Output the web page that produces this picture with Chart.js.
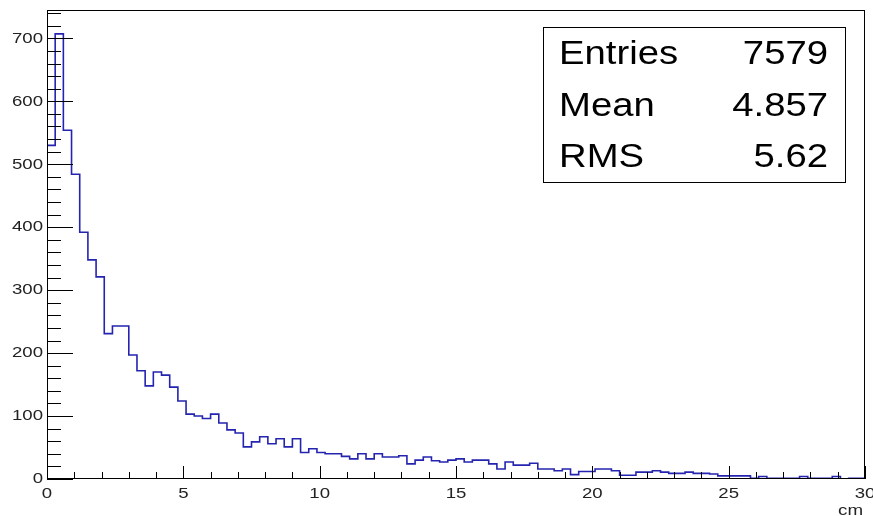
<!DOCTYPE html>
<html>
<head>
<meta charset="utf-8">
<script src="https://cdn.jsdelivr.net/npm/chart.js@4.4.0/dist/chart.umd.min.js"></script>
<style>
  html, body { margin: 0; padding: 0; background: #fff; }
  #wrap { width: 873px; height: 516px; }
</style>
</head>
<body>
<div id="wrap"><canvas id="hist"></canvas></div>
<script>
// histogram: 100 bins from 0 to 30 cm
const xMin = 0, xMax = 30, nBins = 100;
const counts = [
  530, 707, 554, 484, 392, 348, 321, 231, 243, 243,
  197, 172, 148, 170, 165, 146, 124, 103, 100, 96,
  103, 89, 78, 73, 51, 59, 67, 56, 64, 51,
  64, 42, 48, 42, 40, 40, 36, 32, 40, 32,
  40, 35, 35, 37, 24, 30, 35, 29, 27, 30,
  32, 27, 30, 30, 24, 16, 27, 22, 22, 25,
  16, 16, 13, 16, 7, 12, 12, 16, 16, 13,
  6, 6, 11, 11, 13, 11, 9, 9, 11, 9,
  9, 8, 5, 5, 5, 5, 1, 4, 1, 1,
  1, 1, 4, 1, 1, 1, 4, 0, 1, 1
];
const xTickValues = [0, 5, 10, 15, 20, 25, 30];
const yTickValues = [0, 100, 200, 300, 400, 500, 600, 700];
const yMax = 745;
const xTitle = 'cm';
const statNames = ['Entries', 'Mean', 'RMS'];
const statValues = ['7579', '4.857', '5.62'];

const binWidth = (xMax - xMin) / nBins;
const points = [{ x: xMin, y: 0 }];
counts.forEach((c, i) => points.push({ x: xMin + i * binWidth, y: c }));
points.push({ x: xMax, y: counts[counts.length - 1] });

const FONT = '"Liberation Sans", Arial, sans-serif';

// text in the reference is a bit wider than plain Arial
function wideText(ctx, text, x, y, align, stretch) {
  ctx.save();
  ctx.translate(x, y);
  ctx.scale(stretch, 1);
  ctx.textAlign = align;
  ctx.fillText(text, 0, 0);
  ctx.restore();
}

const rootFrame = {
  id: 'rootFrame',
  afterDraw(chart) {
    const ctx = chart.ctx;
    const a = chart.chartArea;
    const x = chart.scales.x, y = chart.scales.y;
    ctx.save();
    ctx.strokeStyle = '#000';
    ctx.lineWidth = 1;
    ctx.strokeRect(Math.round(a.left) + 0.5, Math.round(a.top) + 0.5,
      Math.round(a.right - a.left) - 1, Math.round(a.bottom - a.top) - 1);

    ctx.beginPath();
    for (let v = xMin; v <= xMax + 1e-9; v += 1) {
      const px = Math.round(x.getPixelForValue(v)) + 0.5;
      const len = (v % 5 === 0) ? 13 : 7;
      ctx.moveTo(px, a.bottom);
      ctx.lineTo(px, a.bottom - len);
    }
    for (let v = 0; v <= yMax; v += 20) {
      const py = Math.round(y.getPixelForValue(v)) + 0.5;
      const len = (v % 100 === 0) ? 26 : 14;
      ctx.moveTo(a.left, py);
      ctx.lineTo(a.left + len, py);
    }
    ctx.stroke();

    // tick labels
    ctx.fillStyle = '#222';
    ctx.font = '15.5px ' + FONT;
    ctx.textBaseline = 'middle';
    yTickValues.forEach(v => wideText(ctx, String(v), a.left - 4, y.getPixelForValue(v), 'right', 1.2));
    ctx.textBaseline = 'alphabetic';
    xTickValues.forEach(v => wideText(ctx, String(v), x.getPixelForValue(v), a.bottom + 19, 'center', 1.2));
    ctx.font = '15px ' + FONT;
    wideText(ctx, xTitle, a.right - 2, a.bottom + 36, 'right', 1.25);

    // stats box
    const bx = 543, by = 27, bw = 302, bh = 155;
    ctx.fillStyle = '#fff';
    ctx.fillRect(bx, by, bw, bh);
    ctx.strokeStyle = '#000';
    ctx.strokeRect(bx + 0.5, by + 0.5, bw, bh);
    ctx.fillStyle = '#000';
    ctx.font = '33px ' + FONT;
    statNames.forEach((name, i) => {
      const base = 64 + i * 51.5;
      wideText(ctx, name, 559, base, 'left', 1.16);
      wideText(ctx, statValues[i], 828, base, 'right', 1.16);
    });
    ctx.restore();
  }
};

new Chart(document.getElementById('hist'), {
  type: 'line',
  data: {
    datasets: [{
      data: points,
      stepped: 'before',
      borderColor: '#2424b0',
      borderWidth: 1.6,
      pointRadius: 0,
      fill: false
    }]
  },
  options: {
    responsive: true,
    maintainAspectRatio: false,
    animation: false,
    events: [],
    layout: { padding: { left: 0, right: 8, top: 10, bottom: 0 } },
    plugins: { legend: { display: false }, tooltip: { enabled: false } },
    scales: {
      x: {
        type: 'linear',
        min: xMin,
        max: xMax,
        grid: { display: false },
        border: { display: false },
        afterBuildTicks: s => { s.ticks = xTickValues.map(v => ({ value: v })); },
        afterFit: s => { s.height = 37; s.paddingLeft = 0; s.paddingRight = 0; },
        ticks: { display: false }
      },
      y: {
        type: 'linear',
        min: 0,
        max: yMax,
        grid: { display: false },
        border: { display: false },
        afterBuildTicks: s => { s.ticks = yTickValues.map(v => ({ value: v })); },
        afterFit: s => { s.width = 47; s.paddingTop = 0; s.paddingBottom = 0; },
        ticks: { display: false }
      }
    }
  },
  plugins: [rootFrame]
});
</script>
</body>
</html>
